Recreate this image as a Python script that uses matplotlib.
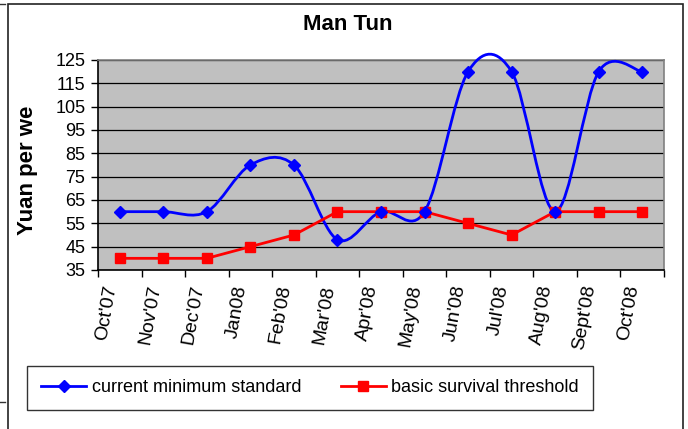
import numpy as np
import matplotlib
matplotlib.use("Agg")
import matplotlib.pyplot as plt
from matplotlib.path import Path
from matplotlib.patches import PathPatch, Rectangle
from matplotlib.lines import Line2D

months = ["Oct'07", "Nov'07", "Dec'07", "Jan08", "Feb'08", "Mar'08", "Apr'08",
          "May'08", "Jun'08", "Jul'08", "Aug'08", "Sept'08", "Oct'08"]
current_min = [60, 60, 60, 80, 80, 48, 60, 60, 120, 120, 60, 120, 120]
survival = [40, 40, 40, 45, 50, 60, 60, 60, 55, 50, 60, 60, 60]
y_ticks = [35, 45, 55, 65, 75, 85, 95, 105, 115, 125]

plt.rcParams['font.family'] = ['Liberation Sans', 'DejaVu Sans']

W, H = 688, 429
fig = plt.figure(figsize=(W / 100, H / 100), dpi=100)


def fx(px):
    return px / W


def fy(py):
    return 1 - py / H


# outer chart frame (bottom is cut off in the original)
fig.add_artist(Rectangle((fx(8), fy(440)), fx(683) - fx(8), fy(4) - fy(440),
                         transform=fig.transFigure, fill=False,
                         edgecolor='#222222', linewidth=1.2))
fig.add_artist(Line2D([0, fx(5)], [fy(4), fy(4)], transform=fig.transFigure,
                      color='#333333', linewidth=1))
fig.add_artist(Line2D([0, fx(5)], [fy(402), fy(402)], transform=fig.transFigure,
                      color='#333333', linewidth=1))

ax = fig.add_axes([fx(98), fy(270), fx(664) - fx(98), fy(60) - fy(270)])
ax.set_facecolor('#C0C0C0')

x = np.arange(len(months))

# smoothed blue line, same style as the spreadsheet "smoothed line"
pts = np.column_stack([x, current_min]).astype(float)
n = len(pts)
verts = [pts[0]]
codes = [Path.MOVETO]
for i in range(n - 1):
    p0 = pts[max(i - 1, 0)]
    p1 = pts[i]
    p2 = pts[i + 1]
    p3 = pts[min(i + 2, n - 1)]
    verts += [p1 + (p2 - p0) / 6, p2 - (p3 - p1) / 6, p2]
    codes += [Path.CURVE4] * 3
ax.add_patch(PathPatch(Path(verts, codes), fill=False, edgecolor='#0000FF',
                       linewidth=2.0, zorder=3, clip_on=False))
ax.plot(x, current_min, linestyle='none', marker='D', markersize=6.5,
        color='#0000FF', zorder=4, clip_on=False)

ax.plot(x, survival, color='#FF0000', linewidth=2.0, marker='s',
        markersize=6.5, zorder=3, clip_on=False)

ax.set_xlim(-0.5, len(months) - 0.5)
ax.set_ylim(35, 125)
ax.set_yticks(y_ticks)
ax.set_yticklabels([str(v) for v in y_ticks], fontsize=13)
ax.yaxis.grid(True, color='#000000', linewidth=0.9)
ax.set_axisbelow(True)

ax.set_xticks(np.arange(-0.5, len(months), 1.0))
ax.set_xticklabels([])
ax.set_xticks(x, minor=True)
ax.set_xticklabels(months, minor=True, fontsize=14, rotation=80,
                   ha='right', va='top')
ax.tick_params(axis='x', which='major', direction='out', length=5, width=1)
ax.tick_params(axis='x', which='minor', length=0, pad=10)
ax.tick_params(axis='y', direction='out', length=5, width=1, pad=4)

for side in ['top', 'right']:
    ax.spines[side].set_color('#808080')
    ax.spines[side].set_linewidth(1.2)
for side in ['left', 'bottom']:
    ax.spines[side].set_color('#000000')
    ax.spines[side].set_linewidth(1.2)

fig.text(fx(348), fy(25), 'Man Tun', fontsize=16, fontweight='bold',
         ha='center', va='center')
fig.text(fx(28), fy(170), 'Yuan per we', fontsize=16, fontweight='bold',
         rotation=90, ha='center', va='center')

handles = [
    Line2D([], [], color='#0000FF', linewidth=2.0, marker='D', markersize=6.5),
    Line2D([], [], color='#FF0000', linewidth=2.0, marker='s', markersize=6.5),
]
leg = fig.legend(handles, ['current minimum standard', 'basic survival threshold'],
                 loc='center', bbox_to_anchor=(fx(310), fy(388)), ncol=2,
                 fontsize=13, frameon=True, fancybox=False, edgecolor='#000000',
                 handlelength=2.5, handletextpad=0.3, columnspacing=2.2,
                 borderpad=0.75, borderaxespad=0)
leg.get_frame().set_linewidth(1.0)

fig.savefig('out.png', dpi=100)
